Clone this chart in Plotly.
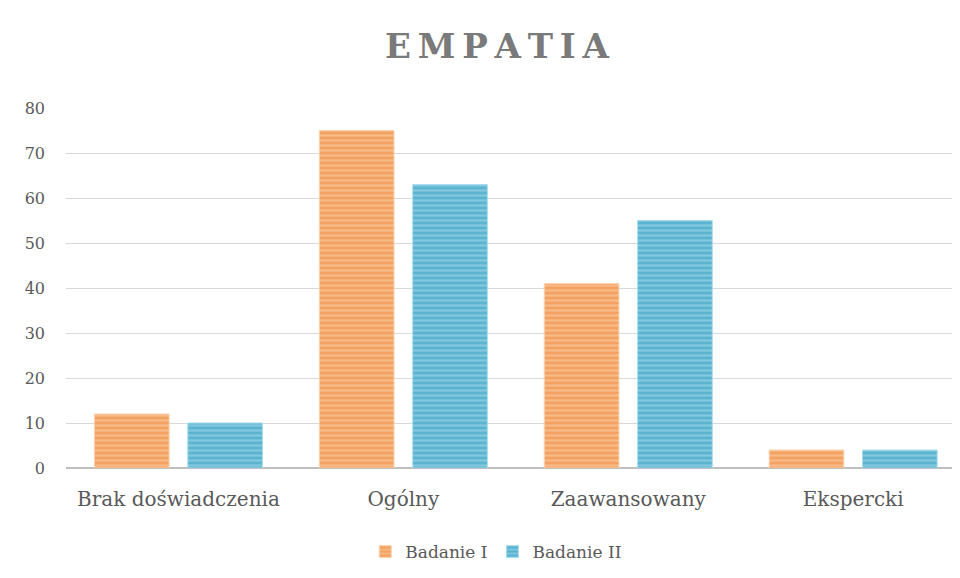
import plotly.graph_objects as go

# dane z wykresu
categories = ["Brak doświadczenia", "Ogólny", "Zaawansowany", "Ekspercki"]
badanie_1 = [12, 75, 41, 4]
badanie_2 = [10, 63, 55, 4]
series_names = ["Badanie I", "Badanie II"]
y_ticks = [0, 10, 20, 30, 40, 50, 60, 70, 80]
title_text = "EMPATIA"

SERIF = "DejaVu Serif, Liberation Serif, serif"
TEXT_GRAY = "#595959"

ORANGE = "#F4A261"
ORANGE_LIGHT = "#FBD2AE"
BLUE = "#5AB3CF"
BLUE_LIGHT = "#A9DDEE"

# strona ma 8px marginesu body, więc figura jest o tyle mniejsza
W, H = 952, 570
L, T, B = 57.5, 100, 110
PLOT_H = H - T - B

fig = go.Figure()

for name, values, base, light in [
    (series_names[0], badanie_1, ORANGE, ORANGE_LIGHT),
    (series_names[1], badanie_2, BLUE, BLUE_LIGHT),
]:
    fig.add_trace(
        go.Bar(
            x=categories,
            y=values,
            name=name,
            marker=dict(
                color=base,
                line=dict(color=light, width=1),
                pattern=dict(shape="-", fgcolor=light, size=5, solidity=0.45, fillmode="overlay"),
            ),
        )
    )

# rozstrzelony tytuł
spaced_title = "\u2009".join(title_text)

fig.update_layout(
    width=W,
    height=H,
    paper_bgcolor="white",
    plot_bgcolor="white",
    barmode="group",
    bargap=0.17,
    bargroupgap=0.2,
    margin=dict(l=L, r=0, t=T, b=B, autoexpand=False),
    title=dict(
        text="<b>" + spaced_title + "</b>",
        x=489 / W,
        xref="container",
        xanchor="center",
        y=1 - 38 / H,
        yref="container",
        yanchor="middle",
        font=dict(family=SERIF, size=34, color="#7a7a7a"),
    ),
    font=dict(family=SERIF, color=TEXT_GRAY),
    xaxis=dict(
        range=[-0.5, 3.475],
        automargin=False,
        showgrid=False,
        showline=False,
        ticks="",
        ticklabelstandoff=17,
        tickfont=dict(family=SERIF, size=20, color=TEXT_GRAY),
    ),
    yaxis=dict(
        range=[0, 80],
        automargin=False,
        tickvals=y_ticks,
        showgrid=True,
        gridcolor="#d9d9d9",
        gridwidth=1,
        zeroline=True,
        zerolinecolor="#bfbfbf",
        zerolinewidth=1.5,
        ticks="",
        ticklabelstandoff=20,
        tickfont=dict(family=SERIF, size=16, color=TEXT_GRAY),
    ),
    legend=dict(
        orientation="h",
        x=(488 - L) / (W - L),
        xanchor="center",
        y=-(544 - (H - B)) / PLOT_H,
        yanchor="middle",
        font=dict(family=SERIF, size=17, color=TEXT_GRAY),
        itemwidth=30,
    ),
)

fig.write_html("out.html")
